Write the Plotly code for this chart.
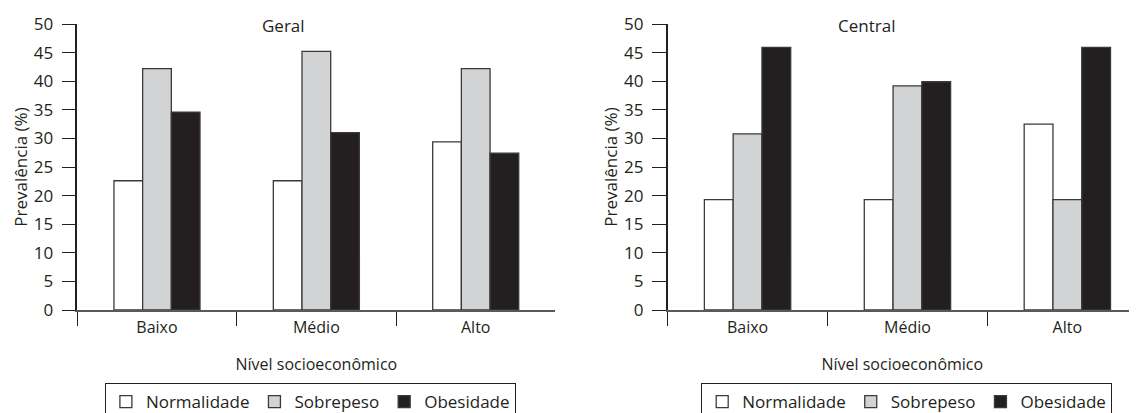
import plotly.graph_objects as go

categories = ["Baixo", "Médio", "Alto"]
series_names = ["Normalidade", "Sobrepeso", "Obesidade"]
geral_normalidade = [22.6, 22.6, 29.4]
geral_sobrepeso = [42.2, 45.2, 42.2]
geral_obesidade = [34.6, 31.0, 27.4]
central_normalidade = [19.3, 19.3, 32.5]
central_sobrepeso = [30.8, 39.2, 19.3]
central_obesidade = [45.9, 39.9, 45.9]
yticks = [0, 5, 10, 15, 20, 25, 30, 35, 40, 45, 50]

fills = ["#ffffff", "#d1d3d4", "#231f20"]
OFF = 8  # default page body margin
W, H = 1137 - OFF, 413 - OFF
FONT = "Open Sans"
TXT = "#231f20"

fig = go.Figure()
panels = [
    ("x", "y", "legend", [geral_normalidade, geral_sobrepeso, geral_obesidade]),
    ("x2", "y2", "legend2", [central_normalidade, central_sobrepeso, central_obesidade]),
]
for xa, ya, lg, vals in panels:
    for name, v, c in zip(series_names, vals, fills):
        fig.add_trace(go.Bar(
            x=categories, y=v, name=name, xaxis=xa, yaxis=ya, legend=lg,
            marker=dict(color=c, line=dict(color="#3a3a3a", width=1.3)),
            hoverinfo="x+y+name",
        ))

def px_x(p):
    return (p - OFF) / W

def px_y(p):
    return (H - (p - OFF)) / H

ydom = [px_y(310), px_y(24)]
xcommon = dict(
    type="category", showline=True, linecolor="#58595b", linewidth=1.5,
    ticks="outside", tickson="boundaries", ticklen=14, tickcolor="#231f20", tickwidth=1.3,
    tickfont=dict(family=FONT, size=16, color=TXT), showgrid=False, zeroline=False,
    ticklabelstandoff=2, automargin=False,
    title=dict(text="Nível socioeconômico", font=dict(family=FONT, size=16, color=TXT), standoff=22),
)
ycommon = dict(
    range=[0, 50], tickvals=yticks, showline=True, linecolor="#231f20", linewidth=1.5,
    ticks="outside", ticklen=14, tickcolor="#231f20", tickwidth=1.3,
    tickfont=dict(family=FONT, size=17, color=TXT), showgrid=False, zeroline=False,
    automargin=False, ticklabelstandoff=5,
    title=dict(text="Prevalência (%)", font=dict(family=FONT, size=17, color=TXT), standoff=2),
)

legcommon = dict(
    orientation="h", xanchor="center", yanchor="top",
    bordercolor="#231f20", borderwidth=1, bgcolor="#ffffff",
    font=dict(family=FONT, size=17, color=TXT), itemwidth=30,
    traceorder="normal", tracegroupgap=0, maxheight=60,
)

# right panel is cut by the page edge: its last category boundary lies past x=1137
cat_w = 159.9
right_end = 2.5 - (667.6 + 3 * cat_w - 1137) / cat_w

fig.update_layout(
    width=W, height=H, margin=dict(l=0, r=0, t=0, b=0, autoexpand=False),
    paper_bgcolor="#ffffff", plot_bgcolor="#ffffff",
    barmode="group", bargap=0.46, bargroupgap=0,
    xaxis=dict(domain=[px_x(77.3), px_x(555.4)], anchor="y", range=[-0.5, 2.5], **xcommon),
    yaxis=dict(domain=ydom, anchor="x", **ycommon),
    xaxis2=dict(domain=[px_x(667.6), 1.0], anchor="y2", range=[-0.5, right_end], **xcommon),
    yaxis2=dict(domain=ydom, anchor="x2", **ycommon),
    legend=dict(x=px_x(310.4), y=px_y(383), **legcommon),
    legend2=dict(x=px_x(906.7), y=px_y(383), **legcommon),
    annotations=[
        dict(text="Geral", x=px_x(283), y=px_y(26), xref="paper", yref="paper",
             showarrow=False, xanchor="center", yanchor="middle",
             font=dict(family=FONT, size=17, color=TXT)),
        dict(text="Central", x=px_x(866.6), y=px_y(26), xref="paper", yref="paper",
             showarrow=False, xanchor="center", yanchor="middle",
             font=dict(family=FONT, size=17, color=TXT)),
    ],
)

fig.write_html("out.html")
